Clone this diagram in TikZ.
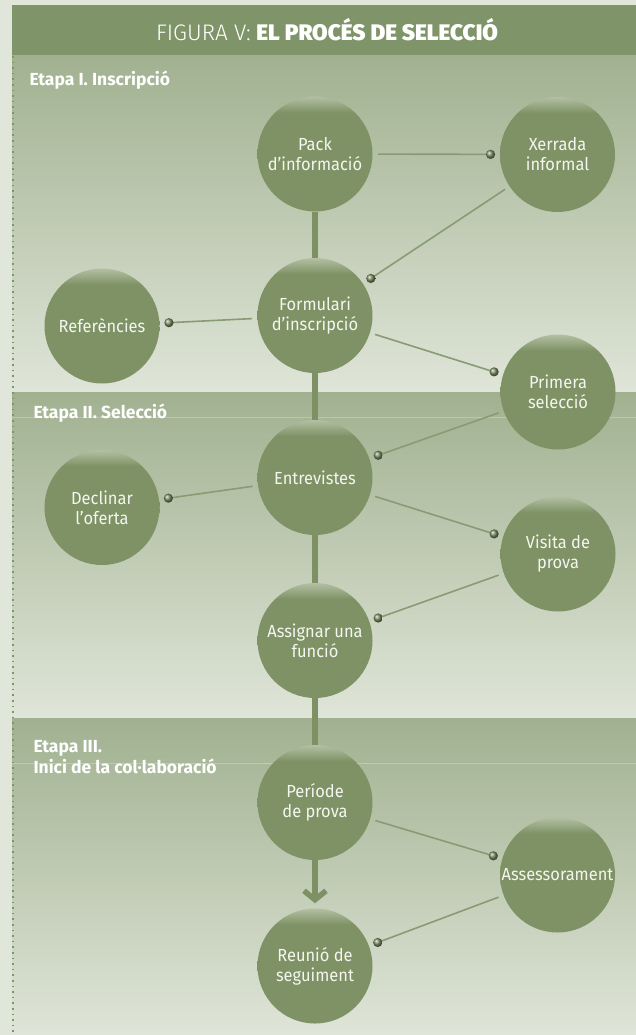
\documentclass[tikz,border=0pt]{standalone}
\usepackage{fontspec}
\setmainfont{Fira Sans}[FakeStretch=0.94]
\newfontfamily\titlelight{Fira Sans Light}
\newfontfamily\titleheavy{Fira Sans Black}
\newfontfamily\phasefont{Fira Sans Bold}
\usetikzlibrary{calc,arrows.meta}

\definecolor{pagebg}{HTML}{E1E6DB}
\definecolor{bandtop}{HTML}{A1B190}
\definecolor{bandbot}{HTML}{DFE5D8}
\definecolor{titlebg}{HTML}{7F9468}
\definecolor{disc}{HTML}{7E9265}
\definecolor{discrim}{HTML}{B3C0A3}
\definecolor{linkc}{HTML}{899B73}
\definecolor{knobc}{HTML}{7A8E63}
\definecolor{trunkc}{HTML}{7D9165}
\definecolor{labeltxt}{HTML}{F4F6EF}
\definecolor{dotc}{HTML}{7F9468}

% flat disc with a light rim along its upper edge
\pgfdeclareverticalshading{discshade}{100bp}{%
  color(0bp)=(disc); color(25bp)=(disc); color(68bp)=(disc);
  color(75bp)=(discrim); color(100bp)=(discrim)}

\tikzset{
  stagedisc/.style={circle, minimum size=115pt, inner sep=0pt,
    shading=discshade, text=labeltxt, align=center,
    font=\fontsize{17.5}{20}\selectfont},
  linkline/.style={draw=linkc, line width=1.6pt},
  trunk/.style={draw=trunkc, line width=5.5pt},
  phase/.style={anchor=west, text=white, align=left,
    font=\phasefont\fontsize{17.5}{21}\selectfont},
}

% thin connector from #1 to #2, ending in a small ball beside #2
\newcommand\stagelink[2]{%
  \draw[linkline] ($(#1.center)!63pt!(#2.center)$) -- ($(#2.center)!67pt!(#1.center)$) coordinate (knob-#1-#2);
  \shade[ball color=knobc] (knob-#1-#2) circle (4.6pt);}

\begin{document}
\begin{tikzpicture}[x=1pt,y=-1pt]
  \useasboundingbox (0,0) rectangle (636,1035);
  \fill[pagebg] (0,0) rectangle (636,1035);

  % phase bands
  \shade[top color=bandtop, bottom color=bandbot] (12,55) rectangle (636,392);
  \shade[top color=bandtop, bottom color=bandbot] (12,392) rectangle (636,718);
  \shade[top color=bandtop, bottom color=bandbot] (12,718) rectangle (636,1035);
  \draw[white, opacity=0.25, line width=0.6pt] (12,417) -- (636,417);
  \draw[white, opacity=0.25, line width=0.6pt] (12,763) -- (636,763);

  % dotted margin rule
  \draw[dotc, line width=1.8pt, dash pattern=on 1.6pt off 4pt] (13,56) -- (13,1035);

  % title bar
  \fill[titlebg] (12,5) rectangle (636,55);
  \node[text=white, font=\fontsize{22.5}{26}\selectfont] (title) at (327,30)
    {{\titlelight FIGURA V:} {\titleheavy EL PROCÉS DE SELECCIÓ}};

  % phase labels
  \node[phase] (ph1) at (26,80) {Etapa I. Inscripció};
  \node[phase] (ph2) at (30,413) {Etapa II. Selecció};
  \node[phase] (ph3) at (30,757) {Etapa III.\\Inici de la col·laboració};

  % steps
  \node[stagedisc] (pack)  at (315,154)   {Pack\\d’informació};
  \node[stagedisc] (xerr)  at (557.5,154.5) {Xerrada\\informal};
  \node[stagedisc] (form)  at (315,315.5) {Formulari\\d’inscripció};
  \node[stagedisc] (refs)  at (102,326)   {Referències};
  \node[stagedisc] (prim)  at (558,392)   {Primera\\selecció};
  \node[stagedisc] (entr)  at (315,477.5) {Entrevistes};
  \node[stagedisc] (decl)  at (102,507.5) {Declinar\\l’oferta};
  \node[stagedisc] (visit) at (558,554)   {Visita de\\prova};
  \node[stagedisc] (assig) at (315,640.5) {Assignar una\\funció};
  \node[stagedisc] (prova) at (315,802.5) {Període\\de prova};
  \node[stagedisc] (asses) at (557.5,875) {Assessorament};
  \node[stagedisc] (reun)  at (315,966)   {Reunió de\\seguiment};

  % main path
  \draw[trunk] (pack) -- (form);
  \draw[trunk] (form) -- (entr);
  \draw[trunk] (entr) -- (assig);
  \draw[trunk] (assig) -- (prova);
  \draw[trunk, shorten >=5pt, -{Straight Barb[length=9pt,width=22pt,line width=5.5pt]}] (prova) -- (reun);

  % side links
  \stagelink{pack}{xerr}
  \stagelink{xerr}{form}
  \stagelink{form}{refs}
  \stagelink{form}{prim}
  \stagelink{prim}{entr}
  \stagelink{entr}{decl}
  \stagelink{entr}{visit}
  \stagelink{visit}{assig}
  \stagelink{prova}{asses}
  \stagelink{asses}{reun}
\end{tikzpicture}
\end{document}
